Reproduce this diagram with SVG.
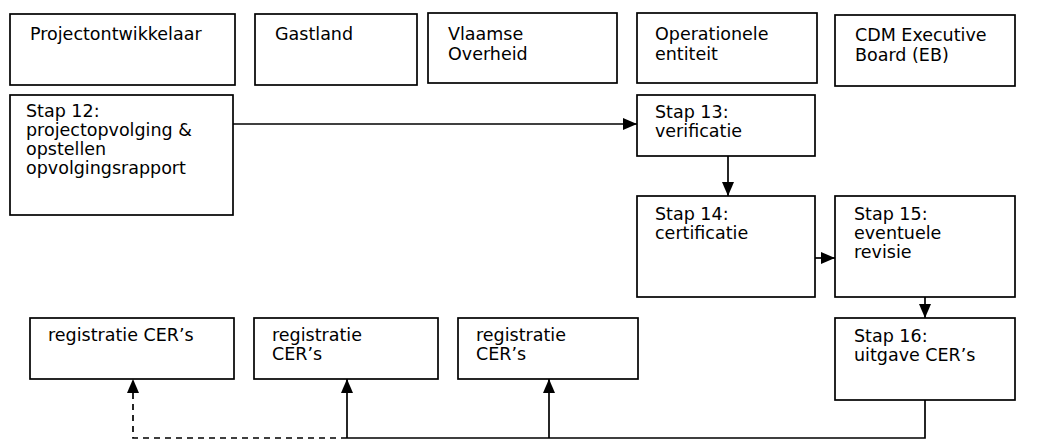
<svg xmlns="http://www.w3.org/2000/svg" width="1037" height="440" viewBox="0 0 1037 440">
<style>
.box{fill:#fff;stroke:#000;stroke-width:1.7}
.t{font-family:"DejaVu Sans",Verdana,sans-serif;font-size:17.5px;fill:#000}
.c{fill:none;stroke:#000;stroke-width:1.7}
.d{fill:none;stroke:#000;stroke-width:1.7;stroke-dasharray:6 5}
</style>
<defs>
<marker id="ah" markerUnits="userSpaceOnUse" markerWidth="14" markerHeight="12" refX="14" refY="6" orient="auto">
<path d="M0,0 L14,6 L0,12 z" fill="#000"/>
</marker>
</defs>
<rect width="1037" height="440" fill="#fff"/>
<g id="projectontwikkelaar"><rect class="box" x="10" y="14" width="225" height="71"/><text class="t" x="30" y="40">Projectontwikkelaar</text></g>
<g id="gastland"><rect class="box" x="255" y="14" width="162" height="71"/><text class="t" x="275" y="40">Gastland</text></g>
<g id="vlaamse-overheid"><rect class="box" x="428" y="13" width="189" height="70"/><text class="t" x="448" y="40">Vlaamse</text><text class="t" x="448" y="60">Overheid</text></g>
<g id="operationele-entiteit"><rect class="box" x="637" y="13" width="180" height="70"/><text class="t" x="655" y="40">Operationele</text><text class="t" x="655" y="60">entiteit</text></g>
<g id="cdm-eb"><rect class="box" x="835" y="15" width="180" height="71"/><text class="t" x="855" y="41">CDM Executive</text><text class="t" x="855" y="61">Board (EB)</text></g>
<g id="stap12"><rect class="box" x="10" y="95" width="223" height="120"/><text class="t" x="26" y="117">Stap 12:</text><text class="t" x="26" y="136">projectopvolging &amp;</text><text class="t" x="26" y="155">opstellen</text><text class="t" x="26" y="174">opvolgingsrapport</text></g>
<g id="stap13"><rect class="box" x="637" y="95" width="178" height="61"/><text class="t" x="655" y="118">Stap 13:</text><text class="t" x="655" y="137">verificatie</text></g>
<g id="stap14"><rect class="box" x="637" y="196" width="178" height="101"/><text class="t" x="655" y="220">Stap 14:</text><text class="t" x="655" y="239">certificatie</text></g>
<g id="stap15"><rect class="box" x="835" y="196" width="180" height="101"/><text class="t" x="854" y="220">Stap 15:</text><text class="t" x="854" y="239">eventuele</text><text class="t" x="854" y="258">revisie</text></g>
<g id="stap16"><rect class="box" x="835" y="318" width="180" height="82"/><text class="t" x="854" y="342">Stap 16:</text><text class="t" x="854" y="361">uitgave CER’s</text></g>
<g id="reg1"><rect class="box" x="30" y="318" width="204" height="61"/><text class="t" x="48" y="341">registratie CER’s</text></g>
<g id="reg2"><rect class="box" x="254" y="318" width="184" height="61"/><text class="t" x="272" y="341">registratie</text><text class="t" x="272" y="360">CER’s</text></g>
<g id="reg3"><rect class="box" x="458" y="318" width="180" height="61"/><text class="t" x="476" y="341">registratie</text><text class="t" x="476" y="360">CER’s</text></g>
<g id="connectors">
<line class="c" x1="233" y1="124" x2="637" y2="124" marker-end="url(#ah)"/>
<line class="c" x1="728" y1="156" x2="728" y2="196" marker-end="url(#ah)"/>
<line class="c" x1="815" y1="258" x2="835" y2="258" marker-end="url(#ah)"/>
<line class="c" x1="925" y1="297" x2="925" y2="318" marker-end="url(#ah)"/>
<polyline class="c" points="925,400 925,438 347,438"/>
<line class="c" x1="347" y1="438" x2="347" y2="379" marker-end="url(#ah)"/>
<line class="c" x1="549" y1="438" x2="549" y2="379" marker-end="url(#ah)"/>
<polyline class="d" points="347,438 133,438 133,379" marker-end="url(#ah)"/>
</g>
</svg>
